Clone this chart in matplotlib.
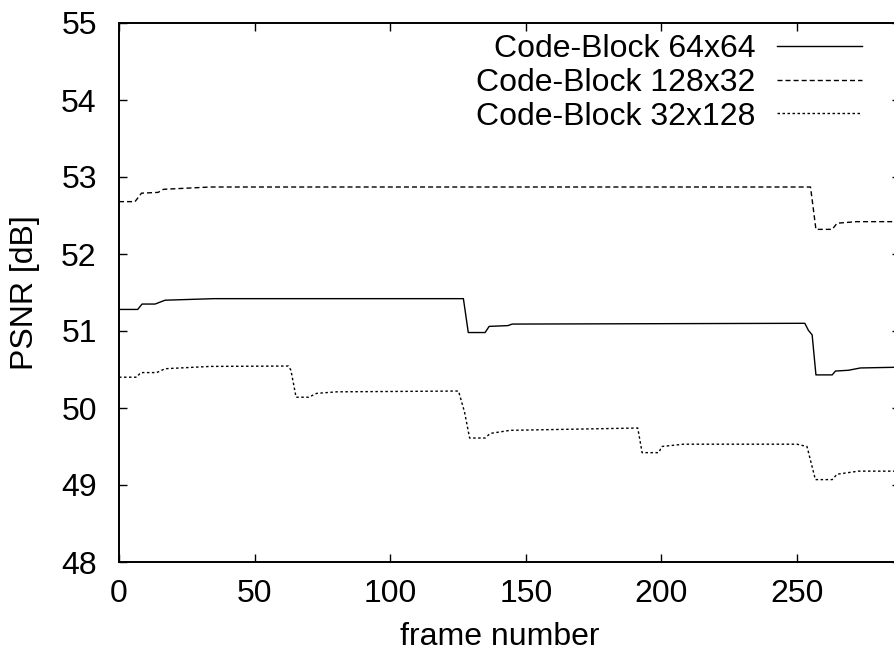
import matplotlib
matplotlib.use("Agg")
import matplotlib.pyplot as plt

plt.rcParams['font.family'] = ['Liberation Sans', 'DejaVu Sans']

# PSNR per frame, stored as the corner points of each curve
frames_64x64 = [0, 6.9, 8.5, 13.3, 17, 35, 127, 128.8, 135, 136.5, 143.4, 145,
                252.9, 254.2, 255.6, 257, 263, 264.2, 269, 273.4, 288]
psnr_64x64 = [51.28, 51.28, 51.35, 51.35, 51.40, 51.42, 51.42, 50.98, 50.98, 51.06,
              51.07, 51.09, 51.10, 51.01, 50.95, 50.43, 50.43, 50.48, 50.49, 50.52, 50.53]

frames_128x32 = [0, 5.9, 8.3, 14.4, 16.4, 33.6, 255, 257, 263, 264.8, 272, 288]
psnr_128x32 = [52.68, 52.68, 52.79, 52.80, 52.84, 52.87, 52.87, 52.32, 52.32,
               52.40, 52.42, 52.42]

frames_32x128 = [0, 6.5, 8, 13.9, 17, 33.6, 62.5, 63.4, 65.3, 69.9, 72.9, 80.3,
                 124, 125.2, 127.4, 129.3, 135, 136.9, 144.3, 191.3, 192.9, 199,
                 200.2, 208.2, 250, 253.7, 256.8, 263, 264.8, 272.7, 288]
psnr_32x128 = [50.40, 50.40, 50.46, 50.46, 50.51, 50.54, 50.545, 50.49, 50.14, 50.14,
               50.19, 50.21, 50.22, 50.22, 49.95, 49.61, 49.61, 49.67, 49.71, 49.74,
               49.42, 49.42, 49.50, 49.53, 49.53, 49.50, 49.07, 49.07, 49.14,
               49.18, 49.18]

x_ticks = [0, 50, 100, 150, 200, 250]
y_ticks = [48, 49, 50, 51, 52, 53, 54, 55]

FS = 23
W, H = 895, 652
fig = plt.figure(figsize=(W / 100, H / 100), dpi=100)
# right edge of the frame sits just past the figure border
ax = fig.add_axes([119 / W, (H - 562) / H, (900 - 119) / W, (562 - 23) / H])

ax.plot(frames_64x64, psnr_64x64, color='black', lw=1.0, label='Code-Block 64x64')
ax.plot(frames_128x32, psnr_128x32, color='black', lw=1.0, dashes=(3.6, 2.2),
        label='Code-Block 128x32')
ax.plot(frames_32x128, psnr_32x128, color='black', lw=1.0, dashes=(1.8, 1.8),
        label='Code-Block 32x128')

ax.set_xlim(0, 288)
ax.set_ylim(48, 55)
ax.set_xticks(x_ticks)
ax.set_yticks(y_ticks)
ax.tick_params(direction='in', length=6, width=1.0, top=True, right=True,
               labelsize=FS)
ax.tick_params(axis='x', pad=12)
ax.tick_params(axis='y', pad=16)
for sp in ax.spines.values():
    sp.set_linewidth(1.4)

ax.set_xlabel('frame number', fontsize=FS)
ax.set_ylabel('PSNR [dB]', fontsize=FS)
ax.xaxis.set_label_coords((500 - 119) / (900 - 119), -0.112)
ax.yaxis.set_label_coords(-(119 - 40) / (900 - 119), 0.5)

leg = ax.legend(loc='upper right', bbox_to_anchor=(862 / W, (H - 34) / H),
                bbox_transform=fig.transFigure, frameon=False, markerfirst=False,
                fontsize=FS, handlelength=2.65, handletextpad=0.68,
                labelspacing=0.12, borderpad=0, borderaxespad=0)

fig.savefig('out.png', dpi=100, facecolor='white')
